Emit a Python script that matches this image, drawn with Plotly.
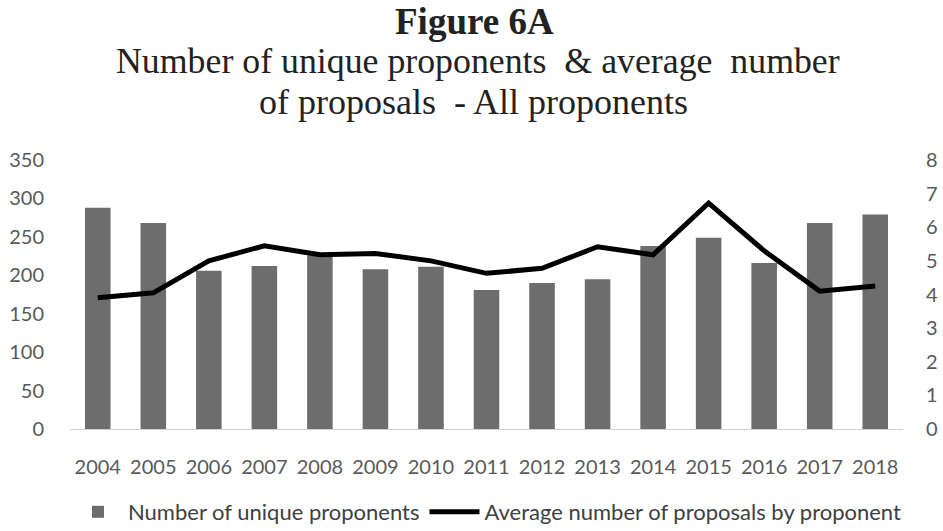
import plotly.graph_objects as go

years = ["2004", "2005", "2006", "2007", "2008", "2009", "2010", "2011",
         "2012", "2013", "2014", "2015", "2016", "2017", "2018"]
unique_proponents = [288, 268, 206, 212, 226, 208, 211, 181,
                     190, 195, 238, 249, 216, 268, 279]
avg_proposals = [3.9, 4.05, 5.0, 5.45, 5.18, 5.22, 5.0, 4.63,
                 4.78, 5.42, 5.18, 6.72, 5.3, 4.1, 4.25]

TICK_FONT = dict(family="Lato, sans-serif", size=20, color="#595959")
SERIF = "Liberation Serif, Times New Roman, serif"

W, H = 943, 531
M_L, M_R, M_T, M_B = 70, 40, 160, 102
plot_h = H - M_T - M_B
plot_w = W - M_L - M_R

fig = go.Figure()
fig.add_trace(go.Bar(x=years, y=unique_proponents, name="Number of unique proponents",
                     marker=dict(color="#6d6d6d", line=dict(width=0))))
fig.add_trace(go.Scatter(x=years, y=avg_proposals, name="Average number of proposals by proponent",
                         mode="lines", yaxis="y2",
                         line=dict(color="#000000", width=5)))

def title_line(text, top_px, size, cx=474, bold=False):
    # top_px: distance from the top of the page to the top of the text box
    return dict(text=f"<b>{text}</b>" if bold else text,
                x=(cx - M_L) / plot_w, xref="paper", xanchor="center",
                y=1 + (M_T - top_px) / plot_h, yref="paper", yanchor="top", borderpad=0,
                showarrow=False, font=dict(family=SERIF, size=size, color="#222222"))

fig.update_layout(
    width=W, height=H,
    margin=dict(l=M_L, r=M_R, t=M_T, b=M_B, autoexpand=False),
    plot_bgcolor="white", paper_bgcolor="white",
    bargap=0.54,
    showlegend=True,
    legend=dict(orientation="h", xanchor="center", x=(487 - M_L) / plot_w,
                yref="container", yanchor="middle", y=1 - 512 / H,
                font=dict(family="Lato, sans-serif", size=22, color="#404040"),
                traceorder="normal", itemwidth=50, tracegroupgap=0),
    xaxis=dict(tickfont=TICK_FONT, showgrid=False, showline=True, automargin=False,
               linecolor="#d0d0d0", linewidth=1, ticks="", ticklabelstandoff=20),
    yaxis=dict(range=[0, 350], dtick=50, tickfont=TICK_FONT, showgrid=False,
               zeroline=False, showline=False, ticklabelstandoff=25, automargin=False),
    yaxis2=dict(range=[0, 8], dtick=1, overlaying="y", side="right",
                tickfont=TICK_FONT, showgrid=False, zeroline=False,
                ticklabelstandoff=22, automargin=False),
    annotations=[
        title_line("Figure 6A", 0, 37, bold=True),
        title_line("Number of unique proponents  & average  number", 40, 35.8, cx=478),
        title_line("of proposals  - All proponents", 81, 36, cx=473),
    ],
)

# drop the default 8px body margin so the figure fills the window exactly
fig.write_html("out.html", config={"displayModeBar": False},
               post_script="document.body.style.margin='0';")
